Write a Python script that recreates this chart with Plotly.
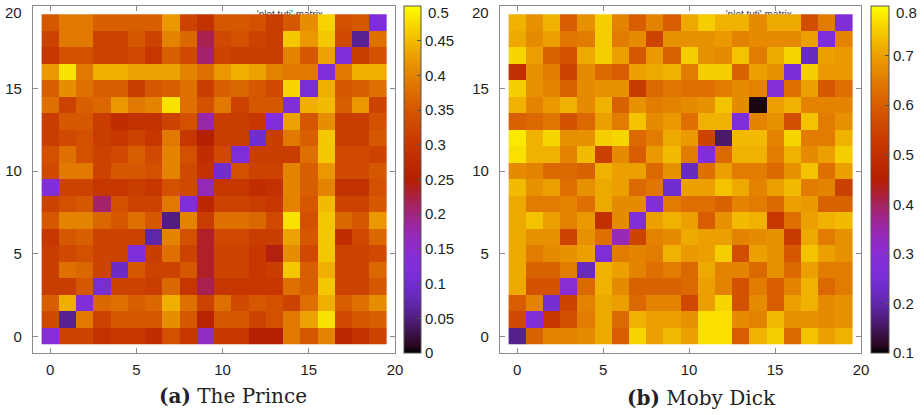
import math
import plotly.graph_objects as go

# ---------------- data ----------------
cells_x = list(range(20))
cells_y = list(range(19, -1, -1))   # rows below are listed from y=19 (top) to y=0 (bottom)

prince = [
    [0.35,0.39,0.39,0.36,0.36,0.36,0.36,0.42,0.32,0.29, 0.35,0.35,0.34,0.31,0.35,0.41,0.47,0.34,0.35,0.12],
    [0.32,0.39,0.39,0.32,0.32,0.35,0.32,0.40,0.37,0.22, 0.33,0.34,0.32,0.31,0.46,0.42,0.46,0.33,0.06,0.38],
    [0.30,0.34,0.34,0.32,0.32,0.33,0.30,0.36,0.33,0.21, 0.32,0.31,0.31,0.31,0.40,0.35,0.43,0.12,0.31,0.34],
    [0.42,0.48,0.39,0.44,0.44,0.43,0.43,0.43,0.40,0.38, 0.42,0.44,0.43,0.40,0.39,0.39,0.12,0.39,0.44,0.44],
    [0.36,0.41,0.38,0.36,0.36,0.31,0.35,0.36,0.38,0.31, 0.36,0.37,0.35,0.33,0.47,0.11,0.44,0.35,0.36,0.38],
    [0.38,0.32,0.36,0.37,0.42,0.39,0.40,0.48,0.38,0.34, 0.39,0.32,0.35,0.35,0.13,0.44,0.45,0.36,0.42,0.32],
    [0.31,0.35,0.35,0.31,0.28,0.29,0.29,0.32,0.34,0.18, 0.31,0.31,0.30,0.13,0.43,0.35,0.41,0.31,0.31,0.34],
    [0.31,0.33,0.34,0.31,0.30,0.32,0.30,0.39,0.30,0.25, 0.31,0.31,0.10,0.31,0.39,0.36,0.46,0.31,0.31,0.35],
    [0.34,0.38,0.34,0.32,0.33,0.36,0.33,0.40,0.34,0.28, 0.33,0.12,0.31,0.31,0.31,0.38,0.46,0.33,0.33,0.32],
    [0.33,0.39,0.39,0.32,0.35,0.35,0.34,0.40,0.33,0.29, 0.10,0.34,0.32,0.32,0.40,0.36,0.42,0.33,0.33,0.35],
    [0.13,0.32,0.32,0.30,0.30,0.31,0.30,0.34,0.33,0.17, 0.30,0.30,0.28,0.29,0.40,0.36,0.40,0.29,0.29,0.34],
    [0.32,0.34,0.35,0.21,0.34,0.32,0.32,0.39,0.13,0.27, 0.32,0.32,0.31,0.30,0.40,0.35,0.45,0.32,0.32,0.35],
    [0.35,0.40,0.40,0.37,0.35,0.38,0.35,0.05,0.40,0.31, 0.38,0.38,0.37,0.33,0.48,0.34,0.46,0.37,0.35,0.42],
    [0.30,0.35,0.36,0.32,0.32,0.32,0.07,0.40,0.34,0.235, 0.33,0.33,0.31,0.31,0.43,0.35,0.46,0.28,0.33,0.37],
    [0.31,0.33,0.34,0.32,0.32,0.12,0.31,0.38,0.32,0.235, 0.32,0.32,0.30,0.245,0.41,0.33,0.46,0.32,0.32,0.33],
    [0.31,0.38,0.37,0.32,0.09,0.35,0.32,0.32,0.35,0.235, 0.32,0.32,0.30,0.31,0.46,0.36,0.44,0.32,0.32,0.37],
    [0.31,0.31,0.35,0.11,0.32,0.32,0.31,0.37,0.30,0.22, 0.30,0.30,0.30,0.30,0.38,0.36,0.46,0.32,0.32,0.35],
    [0.36,0.44,0.13,0.37,0.38,0.36,0.37,0.44,0.38,0.32, 0.38,0.33,0.35,0.34,0.32,0.38,0.44,0.36,0.38,0.41],
    [0.33,0.06,0.39,0.32,0.35,0.35,0.35,0.41,0.35,0.26, 0.35,0.35,0.32,0.34,0.39,0.43,0.48,0.33,0.35,0.36],
    [0.14,0.32,0.32,0.29,0.30,0.30,0.28,0.34,0.30,0.16, 0.30,0.30,0.25,0.25,0.39,0.35,0.40,0.27,0.29,0.32],
]

moby = [
    [0.72,0.68,0.72,0.60,0.68,0.75,0.66,0.60,0.66,0.60, 0.71,0.75,0.72,0.72,0.67,0.71,0.71,0.57,0.65,0.28],
    [0.71,0.67,0.70,0.64,0.65,0.75,0.65,0.67,0.55,0.68, 0.68,0.68,0.69,0.66,0.67,0.67,0.67,0.70,0.27,0.66],
    [0.76,0.70,0.61,0.58,0.71,0.75,0.70,0.59,0.69,0.61, 0.75,0.68,0.67,0.74,0.65,0.71,0.76,0.22,0.70,0.69],
    [0.50,0.68,0.65,0.55,0.67,0.62,0.60,0.70,0.71,0.72, 0.65,0.75,0.75,0.61,0.70,0.68,0.26,0.75,0.69,0.69],
    [0.75,0.68,0.66,0.61,0.67,0.68,0.68,0.53,0.62,0.64, 0.63,0.63,0.65,0.67,0.66,0.29,0.63,0.70,0.59,0.63],
    [0.72,0.66,0.69,0.72,0.67,0.72,0.61,0.68,0.65,0.66, 0.67,0.68,0.74,0.67,0.11,0.70,0.72,0.66,0.66,0.66],
    [0.61,0.62,0.64,0.58,0.62,0.70,0.65,0.74,0.67,0.69, 0.63,0.72,0.72,0.27,0.66,0.68,0.57,0.74,0.65,0.68],
    [0.78,0.72,0.76,0.68,0.68,0.75,0.76,0.62,0.65,0.71, 0.69,0.55,0.16,0.73,0.73,0.66,0.76,0.65,0.65,0.72],
    [0.77,0.72,0.72,0.66,0.73,0.54,0.67,0.60,0.69,0.73, 0.65,0.28,0.62,0.72,0.72,0.65,0.72,0.67,0.70,0.75],
    [0.67,0.66,0.62,0.62,0.61,0.72,0.70,0.70,0.62,0.68, 0.22,0.63,0.70,0.65,0.65,0.62,0.68,0.74,0.63,0.70],
    [0.73,0.68,0.70,0.63,0.68,0.71,0.70,0.62,0.64,0.24, 0.70,0.70,0.74,0.71,0.66,0.70,0.73,0.65,0.66,0.54],
    [0.71,0.65,0.65,0.66,0.63,0.71,0.67,0.67,0.28,0.65, 0.63,0.63,0.61,0.66,0.65,0.62,0.70,0.69,0.61,0.61],
    [0.71,0.74,0.70,0.66,0.69,0.50,0.67,0.28,0.70,0.72, 0.70,0.60,0.68,0.73,0.72,0.52,0.63,0.70,0.72,0.73],
    [0.71,0.68,0.68,0.55,0.68,0.63,0.34,0.55,0.66,0.67, 0.71,0.70,0.70,0.66,0.67,0.68,0.53,0.71,0.65,0.68],
    [0.71,0.65,0.67,0.68,0.70,0.27,0.65,0.66,0.65,0.72, 0.69,0.70,0.75,0.57,0.70,0.68,0.59,0.74,0.70,0.68],
    [0.71,0.61,0.61,0.65,0.22,0.72,0.70,0.66,0.63,0.65, 0.62,0.71,0.66,0.66,0.62,0.68,0.62,0.70,0.65,0.65],
    [0.71,0.58,0.58,0.30,0.62,0.72,0.67,0.61,0.61,0.61, 0.62,0.70,0.66,0.58,0.65,0.60,0.66,0.72,0.62,0.65],
    [0.60,0.66,0.25,0.55,0.66,0.71,0.70,0.62,0.66,0.66, 0.56,0.70,0.76,0.58,0.67,0.60,0.70,0.72,0.67,0.68],
    [0.56,0.28,0.52,0.57,0.65,0.71,0.62,0.72,0.70,0.70, 0.68,0.77,0.77,0.67,0.66,0.73,0.68,0.68,0.67,0.68],
    [0.18,0.61,0.66,0.66,0.67,0.71,0.60,0.76,0.70,0.73, 0.70,0.77,0.77,0.60,0.72,0.75,0.62,0.74,0.70,0.72],
]

axis_ticks = [0, 5, 10, 15, 20]
axis_text = ["0", "5", "10", "15", "20"]
prince_cb_vals = [0, 0.05, 0.1, 0.15, 0.2, 0.25, 0.3, 0.35, 0.4, 0.45, 0.5]
prince_cb_text = ["0", "0.05", "0.1", "0.15", "0.2", "0.25", "0.3", "0.35", "0.4", "0.45", "0.5"]
moby_cb_vals = [0.1, 0.2, 0.3, 0.4, 0.5, 0.6, 0.7, 0.8]
moby_cb_text = ["0.1", "0.2", "0.3", "0.4", "0.5", "0.6", "0.7", "0.8"]
captions = ["<b>(a)</b> The Prince", "<b>(b)</b> Moby Dick"]
key_label = "'plot tuti' matrix"

# ---------------- style ----------------
W, H = 924, 415

def gnuplot_scale(n=50):
    # gnuplot default palette (rgbformulae 7,5,15), slightly softened in the violet range
    out = []
    for i in range(n + 1):
        t = i / n
        b0 = max(0.0, math.sin(2 * math.pi * t))
        r = math.sqrt(t)
        g = t ** 3 + 0.22 * b0 * (1 - t)
        b = 0.85 * b0
        out.append([t, f"rgb({round(r*255)},{round(min(g,1)*255)},{round(b*255)})"])
    return out

CS = gnuplot_scale()
FRAME = "#8a8a8a"
TXT = "#1e1e1e"
TICKFONT = dict(family="Liberation Sans, Arial, sans-serif", size=15, color=TXT)

def px_x(a, b):
    return [a / W, b / W]

def px_y(top, bottom):
    return [1 - bottom / H, 1 - top / H]

panels = [
    dict(z=prince, zmin=0, zmax=0.5, xdom=px_x(33, 395), cbx=404, cbw=17,
         cbv=prince_cb_vals, cbt=prince_cb_text, keyx=13.9),
    dict(z=moby, zmin=0.1, zmax=0.8, xdom=px_x(500, 861), cbx=871, cbw=18,
         cbv=moby_cb_vals, cbt=moby_cb_text, keyx=14.05),
]
ydom = px_y(6, 353)
TOP_LABEL_Y = 1 - 13 / H   # gnuplot pushed the topmost labels down inside the page

fig = go.Figure()
layout = {}
annotations = []
for i, p in enumerate(panels):
    bx = "x" if i == 0 else "x2"
    by = "y" if i == 0 else "y2"
    ox = f"x{3 + i}"
    oy = f"y{3 + i}"
    bxk = "xaxis" if i == 0 else "xaxis2"
    byk = "yaxis" if i == 0 else "yaxis2"
    common = dict(range=[-1, 20], tickvals=axis_ticks, ticks="inside", ticklen=5,
                  tickcolor=FRAME, showline=True, linecolor=FRAME, linewidth=1.2,
                  mirror="ticks", showgrid=False, zeroline=False, tickfont=TICKFONT,
                  automargin=False)
    layout[bxk] = dict(common, domain=p["xdom"], anchor=by, ticktext=axis_text,
                       ticklabelstandoff=3)
    layout[byk] = dict(common, domain=ydom, anchor=bx,
                       ticktext=axis_text[:-1] + [""], ticklabelstandoff=7)
    layout[f"xaxis{3 + i}"] = dict(range=[-1, 20], domain=p["xdom"], overlaying=bx,
                                   anchor=oy, visible=False)
    layout[f"yaxis{3 + i}"] = dict(range=[-1, 20], domain=ydom, overlaying=by,
                                   anchor=ox, visible=False)

    # topmost y-axis label
    annotations.append(dict(text=axis_text[-1], x=p["xdom"][0] - 9 / W, y=TOP_LABEL_Y,
                            xref="paper", yref="paper", xanchor="right", yanchor="middle",
                            showarrow=False, font=TICKFONT))
    # topmost colour-bar label
    annotations.append(dict(text=p["cbt"][-1], x=(p["cbx"] + p["cbw"] + 5) / W, y=TOP_LABEL_Y,
                            xref="paper", yref="paper", xanchor="left", yanchor="middle",
                            showarrow=False, font=TICKFONT))

    # key text (drawn under the heatmap, which hides its lower half)
    fig.add_trace(go.Scatter(x=[p["keyx"]], y=[19.42], mode="text", text=[key_label],
                             textfont=dict(family="Liberation Sans, Arial", size=10, color="#444"),
                             xaxis=bx, yaxis=by, showlegend=False, hoverinfo="skip"))

    fig.add_trace(go.Heatmap(
        z=p["z"], x=cells_x, y=cells_y, zmin=p["zmin"], zmax=p["zmax"],
        colorscale=CS, xaxis=ox, yaxis=oy,
        colorbar=dict(x=p["cbx"] / W, xanchor="left", xref="paper",
                      y=ydom[0], yanchor="bottom", len=ydom[1] - ydom[0], lenmode="fraction",
                      thickness=p["cbw"], thicknessmode="pixels", xpad=0, ypad=0,
                      outlinewidth=1, outlinecolor="#555", ticks="inside", ticklen=4,
                      tickcolor="#555", tickvals=p["cbv"], ticktext=p["cbt"][:-1] + [""],
                      tickfont=TICKFONT),
    ))

annotations += [
    dict(text=captions[0], x=233 / W, y=1 - 396 / H, xref="paper", yref="paper",
         showarrow=False, xanchor="center", yanchor="middle",
         font=dict(family="DejaVu Serif, serif", size=20, color="#222")),
    dict(text=captions[1], x=701 / W, y=1 - 398 / H, xref="paper", yref="paper",
         showarrow=False, xanchor="center", yanchor="middle",
         font=dict(family="DejaVu Serif, serif", size=20, color="#222")),
]

fig.update_layout(**layout)
fig.update_layout(
    width=W, height=H, margin=dict(l=0, r=0, t=0, b=0),
    paper_bgcolor="white", plot_bgcolor="white", showlegend=False,
    annotations=annotations,
)

fig.write_html("out.html")
